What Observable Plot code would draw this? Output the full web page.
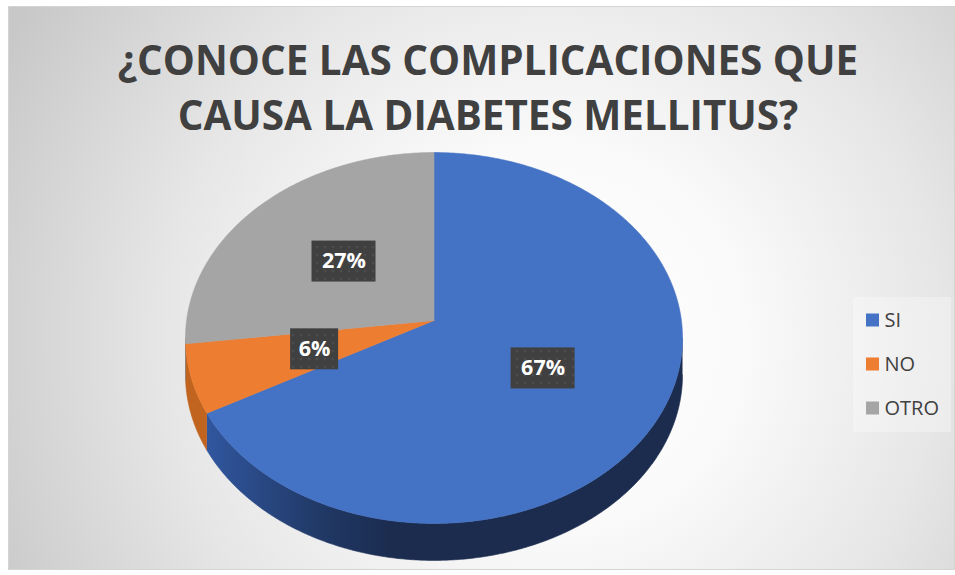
<!DOCTYPE html>
<html><head><meta charset="utf-8">
<script src="https://cdn.jsdelivr.net/npm/d3@7"></script>
<script src="https://cdn.jsdelivr.net/npm/@observablehq/plot@0.6"></script>
<style>
html,body{margin:0;padding:0;background:#fff;}
#frame{position:absolute;left:8px;top:6px;width:945px;height:562px;border:1px solid #d4d4d4;
 background: radial-gradient(circle at 543px 331px, #ffffff 0px, #fafafa 190px, #e6e6e6 390px, #c8c8c8 620px);
 overflow:hidden;font-family:"Open Sans",sans-serif;}
#title{height:140px;box-sizing:border-box;padding-top:25px;padding-left:13px;text-align:center;font-weight:700;font-size:40.4px;line-height:55px;color:#404040;white-space:nowrap;}
#chart svg{display:block;}
</style></head>
<body>
<div id="frame">
  <div id="title">¿CONOCE LAS COMPLICACIONES QUE<br>CAUSA LA DIABETES MELLITUS?</div>
  <div id="chart"></div>
</div>
<script>
// ---- data ----
const categories = ["SI", "NO", "OTRO"];
const values = [67, 6, 27];
const labels = ["67%", "6%", "27%"];
const colors = ["#4472C4", "#ED7D31", "#A5A5A5"];
const sideColors = ["url(#sideBlue)", "#c0641f", "#7f7f7f"];

// ---- geometry (page pixel coordinates) ----
const W = 945, H = 422, X0 = 9, Y0 = 147;
const CX = 433.5, CY = 320, A = 247.4, B = 183.8, K = 0.0943, DEPTH = 37;
const STEP = Math.PI / 360;
function P(t, r = 1, dz = 0) {
  const u = r * Math.sin(t), v = r * Math.cos(t), w = 1 + K * v;
  return {x: CX + A * u / w, y: CY - B * v / w + dz};
}
function arc(t0, t1, r = 1, dz = 0) {
  const n = Math.max(2, Math.ceil(Math.abs(t1 - t0) / STEP));
  return d3.range(n + 1).map(i => P(t0 + (t1 - t0) * i / n, r, dz));
}
const pie = d3.pie().sort(null).value(d => d)(values);
const slices = pie.map((a, i) => ({
  cat: categories[i], label: labels[i], i,
  start: a.startAngle, end: a.endAngle, mid: (a.startAngle + a.endAngle) / 2
}));
const topPts = slices.flatMap(s => [P(0, 0), ...arc(s.start, s.end), P(0, 0)].map(p => ({...p, cat: s.cat})));
const tL = Math.acos(-K), tR = 2 * Math.PI - tL;
const sideMarks = slices.map(s => {
  const a0 = Math.max(s.start, tL), a1 = Math.min(s.end, tR);
  if (a1 <= a0) return null;
  const pts = [...arc(a0, a1), ...arc(a1, a0, 1, DEPTH)];
  return Plot.line(pts, {x: "x", y: "y", fill: sideColors[s.i], stroke: sideColors[s.i], strokeWidth: 0.6});
}).filter(Boolean);
const shadowPts = [...arc(tR, 2 * Math.PI + tL), ...arc(tL, tR, 1, DEPTH)].map(p => ({x: p.x, y: p.y + 6}));
const labelData = slices.map(s => {
  const p = P(s.mid, 0.5);
  const w = 16 * s.label.length + 16;
  return {...p, label: s.label, x1: p.x - w / 2, x2: p.x + w / 2, y1: p.y - 20.5, y2: p.y + 20.5};
});
const legendData = categories.map((c, i) => ({cat: c, y: 320 + 44 * i}));

const plot = Plot.plot({
  width: W, height: H, margin: 0,
  style: {background: "transparent", overflow: "visible"},
  x: {domain: [X0, X0 + W], range: [0, W], axis: null},
  y: {domain: [Y0, Y0 + H], range: [0, H], axis: null},
  color: {domain: categories, range: colors},
  marks: [
    Plot.line(shadowPts, {x: "x", y: "y", fill: "#000", fillOpacity: 0.34, stroke: "none", ariaLabel: "pie-shadow"}),
    ...sideMarks,
    Plot.line(topPts, {x: "x", y: "y", z: "cat", fill: "cat", stroke: "cat", strokeWidth: 0.6}),
    Plot.rect(labelData, {x1: "x1", x2: "x2", y1: "y1", y2: "y2", fill: "url(#dots)", ariaLabel: "label-box"}),
    Plot.text(labelData, {x: "x", y: "y", text: "label", fill: "white", fontWeight: "bold", fontSize: 21.5, fontFamily: "Open Sans"}),
    Plot.rect([0], {x1: 853, x2: 951, y1: 297, y2: 432, fill: "white", fillOpacity: 0.3}),
    Plot.rect(legendData, {x1: 866, x2: 879, y1: d => d.y - 6.5, y2: d => d.y + 6.5, fill: "cat"}),
    Plot.text(legendData, {x: 884, y: "y", text: "cat", textAnchor: "start", fill: "#404040", fontSize: 20, fontFamily: "Open Sans"})
  ]
});

const svg = d3.select(plot);
const defs = svg.insert("defs", ":first-child");
const g = defs.append("linearGradient").attr("id", "sideBlue").attr("gradientUnits", "userSpaceOnUse")
  .attr("x1", 200 - X0).attr("x2", 390 - X0).attr("y1", 0).attr("y2", 0);
g.append("stop").attr("offset", 0).attr("stop-color", "#3258a2");
g.append("stop").attr("offset", 0.6).attr("stop-color", "#213a68");
g.append("stop").attr("offset", 1).attr("stop-color", "#1b2c4f");
const pat = defs.append("pattern").attr("id", "dots").attr("patternUnits", "userSpaceOnUse").attr("width", 8).attr("height", 8);
pat.append("rect").attr("width", 8).attr("height", 8).attr("fill", "#404040");
pat.append("circle").attr("cx", 4).attr("cy", 4).attr("r", 1.3).attr("fill", "#4c4c4c");
defs.append("filter").attr("id", "blur").attr("x", "-20%").attr("y", "-20%").attr("width", "140%").attr("height", "140%")
  .append("feGaussianBlur").attr("stdDeviation", 8);
defs.append("filter").attr("id", "dshadow").attr("x", "-30%").attr("y", "-30%").attr("width", "160%").attr("height", "160%")
  .append("feDropShadow").attr("dx", 2.5).attr("dy", 3).attr("stdDeviation", 2.5).attr("flood-color", "#000").attr("flood-opacity", 0.45);
svg.selectAll('g[aria-label="pie-shadow"]').attr("filter", "url(#blur)");
svg.selectAll('g[aria-label="label-box"]').attr("filter", "url(#dshadow)");

document.getElementById("chart").appendChild(plot);
</script>
</body></html>
